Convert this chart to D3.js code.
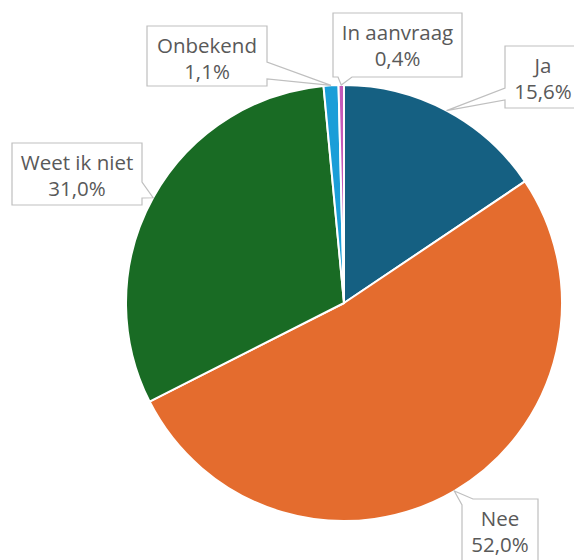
<!DOCTYPE html>
<html>
<head>
<meta charset="utf-8">
<script src="https://cdn.jsdelivr.net/npm/d3@7"></script>
<style>
  body { margin: 0; background: #fff; }
  svg { display: block; }
</style>
</head>
<body>
<script>
// ************** Data *****************
var categories = ["Ja", "Nee", "Weet ik niet", "Onbekend", "In aanvraag"];
var values = [15.6, 52.0, 31.0, 1.1, 0.4];
var valueLabels = ["15,6%", "52,0%", "31,0%", "1,1%", "0,4%"];
var sliceColors = ["#156082", "#e46c2e", "#196b24", "#1a9ed8", "#c55ab9"];

// ************** Layout *****************
var width = 574,
    height = 560,
    centerX = 344,
    centerY = 303,
    radius = 218;

/* callout boxes: x, y, w, h of the box and where the wedge leaves it
   (edge + two offsets along that edge, or two edges for a corner wedge) */
var callouts = [
  {x: 505, y: 46,  w: 76,  h: 62, a: ["left", 54],   b: ["left", 42]},
  {x: 462, y: 499, w: 76,  h: 64, a: ["left", 6],    b: ["top", 11]},
  {x: 12,  y: 143, w: 130, h: 62, a: ["right", 39],  b: ["right", 55]},
  {x: 147, y: 26,  w: 120, h: 60, a: ["right", 36],  b: ["right", 53]},
  {x: 333, y: 13,  w: 129, h: 64, a: ["bottom", 19], b: ["bottom", 5]}
];

var svg = d3.select("body").append("svg")
  .attr("width", width)
  .attr("height", height);

var pie = d3.pie().sort(null).value(function(d) { return d; });
var arcs = pie(values);

var arc = d3.arc().innerRadius(0).outerRadius(radius);
var edgeArc = d3.arc().innerRadius(radius).outerRadius(radius);

var chart = svg.append("g")
  .attr("transform", "translate(" + centerX + "," + centerY + ")");

chart.selectAll("path.slice")
  .data(arcs)
  .enter().append("path")
  .attr("class", "slice")
  .attr("d", arc)
  .attr("fill", function(d, i) { return sliceColors[i]; })
  .attr("stroke", "#fff")
  .attr("stroke-width", 2)
  .attr("stroke-linejoin", "round");

// position along the box perimeter, clockwise from the top-left corner
function edgeT(spec, w, h) {
  var edge = spec[0], off = spec[1];
  if (edge === "top") return off;
  if (edge === "right") return w + off;
  if (edge === "bottom") return w + h + (w - off);
  return 2 * w + h + (h - off);
}

function pointAt(t, w, h) {
  var p = 2 * w + 2 * h;
  t = ((t % p) + p) % p;
  if (t <= w) return [t, 0];
  if (t <= w + h) return [w, t - w];
  if (t <= 2 * w + h) return [w - (t - w - h), h];
  return [0, h - (t - 2 * w - h)];
}

function calloutPath(c, tip) {
  var w = c.w, h = c.h, p = 2 * w + 2 * h;
  var t1 = edgeT(c.a, w, h),
      t2 = edgeT(c.b, w, h);
  while (t2 <= t1) t2 += p;
  var start = t2, end = t1;
  while (end <= start) end += p;
  var pts = [pointAt(start, w, h)];
  for (var k = 0; k < 3; k++) {
    [0, w, w + h, 2 * w + h].forEach(function(cn) {
      var t = cn + k * p;
      if (t > start && t < end) pts.push(pointAt(t, w, h));
    });
  }
  pts.push(pointAt(end, w, h));
  pts.push([tip[0] - c.x, tip[1] - c.y]);
  return "M" + pts.map(function(q) { return q[0] + "," + q[1]; }).join("L") + "Z";
}

var labels = svg.selectAll("g.callout")
  .data(arcs)
  .enter().append("g")
  .attr("class", "callout")
  .attr("transform", function(d, i) {
    return "translate(" + callouts[i].x + "," + callouts[i].y + ")";
  });

labels.append("path")
  .attr("d", function(d, i) {
    var c = edgeArc.centroid(d);
    return calloutPath(callouts[i], [c[0] + centerX, c[1] + centerY]);
  })
  .attr("fill", "#fff")
  .attr("stroke", "#bfbfbf")
  .attr("stroke-width", 1.2);

labels.append("text")
  .attr("x", function(d, i) { return callouts[i].w / 2; })
  .attr("y", 27)
  .attr("text-anchor", "middle")
  .style("font-family", "'Open Sans', sans-serif")
  .style("font-size", "20.5px")
  .style("fill", "#595959")
  .text(function(d, i) { return categories[i]; });

labels.append("text")
  .attr("x", function(d, i) { return callouts[i].w / 2; })
  .attr("y", 53)
  .attr("text-anchor", "middle")
  .style("font-family", "'Open Sans', sans-serif")
  .style("font-size", "20.5px")
  .style("fill", "#595959")
  .text(function(d, i) { return valueLabels[i]; });
</script>
</body>
</html>
